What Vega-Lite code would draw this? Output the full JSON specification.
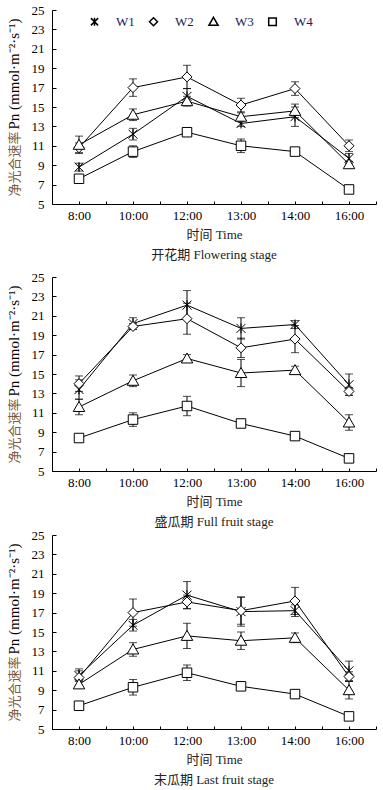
{
  "$schema": "https://vega.github.io/schema/vega-lite/v6.json",
  "padding": {"left": 5, "top": 4, "right": 0, "bottom": 0},
  "config": {
    "font": "Liberation Serif, Noto Sans CJK SC",
    "view": {"stroke": null},
    "axis": {"domainColor": "black", "tickColor": "black", "labelColor": "black", "labelFontSize": 13, "titleFontSize": 13, "titleFontWeight": "normal", "grid": false, "domainWidth": 1, "tickWidth": 1, "labelFont": "Liberation Serif", "titleFont": "Liberation Serif, Noto Sans CJK SC"},
    "title": {"font": "Liberation Serif, Noto Sans CJK SC", "fontSize": 13, "fontWeight": "normal", "color": "#222"}
  },
  "data": {"values": [
    {"stage": "F", "series": "W1", "time": "8:00", "pn": 8.8, "se": 0.4},
    {"stage": "F", "series": "W1", "time": "10:00", "pn": 12.2, "se": 0.6},
    {"stage": "F", "series": "W1", "time": "12:00", "pn": 16.1, "se": 0.8},
    {"stage": "F", "series": "W1", "time": "13:00", "pn": 13.3, "se": 0.3},
    {"stage": "F", "series": "W1", "time": "14:00", "pn": 14.0, "se": 1.0},
    {"stage": "F", "series": "W1", "time": "16:00", "pn": 9.7, "se": 0.5},
    {"stage": "F", "series": "W2", "time": "8:00", "pn": 10.8, "se": 0.5},
    {"stage": "F", "series": "W2", "time": "10:00", "pn": 17.0, "se": 0.9},
    {"stage": "F", "series": "W2", "time": "12:00", "pn": 18.1, "se": 1.2},
    {"stage": "F", "series": "W2", "time": "13:00", "pn": 15.2, "se": 0.7},
    {"stage": "F", "series": "W2", "time": "14:00", "pn": 16.9, "se": 0.7},
    {"stage": "F", "series": "W2", "time": "16:00", "pn": 11.0, "se": 0.6},
    {"stage": "F", "series": "W3", "time": "8:00", "pn": 11.1, "se": 0.9},
    {"stage": "F", "series": "W3", "time": "10:00", "pn": 14.2, "se": 0.6},
    {"stage": "F", "series": "W3", "time": "12:00", "pn": 15.6, "se": 0.5},
    {"stage": "F", "series": "W3", "time": "13:00", "pn": 14.0, "se": 0.4},
    {"stage": "F", "series": "W3", "time": "14:00", "pn": 14.6, "se": 0.7},
    {"stage": "F", "series": "W3", "time": "16:00", "pn": 9.1, "se": 0.3},
    {"stage": "F", "series": "W4", "time": "8:00", "pn": 7.6, "se": 0.3},
    {"stage": "F", "series": "W4", "time": "10:00", "pn": 10.4, "se": 0.6},
    {"stage": "F", "series": "W4", "time": "12:00", "pn": 12.4, "se": 0.3},
    {"stage": "F", "series": "W4", "time": "13:00", "pn": 11.0, "se": 0.7},
    {"stage": "F", "series": "W4", "time": "14:00", "pn": 10.4, "se": 0.2},
    {"stage": "F", "series": "W4", "time": "16:00", "pn": 6.5, "se": 0.2},
    {"stage": "U", "series": "W1", "time": "8:00", "pn": 13.4, "se": 1.0},
    {"stage": "U", "series": "W1", "time": "10:00", "pn": 20.2, "se": 0.6},
    {"stage": "U", "series": "W1", "time": "12:00", "pn": 22.1, "se": 1.5},
    {"stage": "U", "series": "W1", "time": "13:00", "pn": 19.7, "se": 1.1},
    {"stage": "U", "series": "W1", "time": "14:00", "pn": 20.1, "se": 0.4},
    {"stage": "U", "series": "W1", "time": "16:00", "pn": 13.9, "se": 1.1},
    {"stage": "U", "series": "W2", "time": "8:00", "pn": 14.0, "se": 0.8},
    {"stage": "U", "series": "W2", "time": "10:00", "pn": 19.9, "se": 0.3},
    {"stage": "U", "series": "W2", "time": "12:00", "pn": 20.7, "se": 1.6},
    {"stage": "U", "series": "W2", "time": "13:00", "pn": 17.7, "se": 1.0},
    {"stage": "U", "series": "W2", "time": "14:00", "pn": 18.6, "se": 1.4},
    {"stage": "U", "series": "W2", "time": "16:00", "pn": 13.2, "se": 0.4},
    {"stage": "U", "series": "W3", "time": "8:00", "pn": 11.6, "se": 0.8},
    {"stage": "U", "series": "W3", "time": "10:00", "pn": 14.3, "se": 0.6},
    {"stage": "U", "series": "W3", "time": "12:00", "pn": 16.6, "se": 0.4},
    {"stage": "U", "series": "W3", "time": "13:00", "pn": 15.1, "se": 1.4},
    {"stage": "U", "series": "W3", "time": "14:00", "pn": 15.4, "se": 0.4},
    {"stage": "U", "series": "W3", "time": "16:00", "pn": 10.0, "se": 0.8},
    {"stage": "U", "series": "W4", "time": "8:00", "pn": 8.4, "se": 0.3},
    {"stage": "U", "series": "W4", "time": "10:00", "pn": 10.3, "se": 0.7},
    {"stage": "U", "series": "W4", "time": "12:00", "pn": 11.7, "se": 1.0},
    {"stage": "U", "series": "W4", "time": "13:00", "pn": 9.9, "se": 0.2},
    {"stage": "U", "series": "W4", "time": "14:00", "pn": 8.6, "se": 0.3},
    {"stage": "U", "series": "W4", "time": "16:00", "pn": 6.3, "se": 0.3},
    {"stage": "L", "series": "W1", "time": "8:00", "pn": 10.5, "se": 0.5},
    {"stage": "L", "series": "W1", "time": "10:00", "pn": 15.7, "se": 0.6},
    {"stage": "L", "series": "W1", "time": "12:00", "pn": 18.8, "se": 1.4},
    {"stage": "L", "series": "W1", "time": "13:00", "pn": 17.1, "se": 1.5},
    {"stage": "L", "series": "W1", "time": "14:00", "pn": 17.2, "se": 0.6},
    {"stage": "L", "series": "W1", "time": "16:00", "pn": 11.0, "se": 1.0},
    {"stage": "L", "series": "W2", "time": "8:00", "pn": 10.3, "se": 0.9},
    {"stage": "L", "series": "W2", "time": "10:00", "pn": 17.0, "se": 1.4},
    {"stage": "L", "series": "W2", "time": "12:00", "pn": 18.1, "se": 0.7},
    {"stage": "L", "series": "W2", "time": "13:00", "pn": 17.2, "se": 1.4},
    {"stage": "L", "series": "W2", "time": "14:00", "pn": 18.2, "se": 1.4},
    {"stage": "L", "series": "W2", "time": "16:00", "pn": 10.4, "se": 0.5},
    {"stage": "L", "series": "W3", "time": "8:00", "pn": 9.6, "se": 0.3},
    {"stage": "L", "series": "W3", "time": "10:00", "pn": 13.2, "se": 0.7},
    {"stage": "L", "series": "W3", "time": "12:00", "pn": 14.6, "se": 1.3},
    {"stage": "L", "series": "W3", "time": "13:00", "pn": 14.1, "se": 0.9},
    {"stage": "L", "series": "W3", "time": "14:00", "pn": 14.4, "se": 0.5},
    {"stage": "L", "series": "W3", "time": "16:00", "pn": 9.0, "se": 0.9},
    {"stage": "L", "series": "W4", "time": "8:00", "pn": 7.4, "se": 0.2},
    {"stage": "L", "series": "W4", "time": "10:00", "pn": 9.3, "se": 0.8},
    {"stage": "L", "series": "W4", "time": "12:00", "pn": 10.8, "se": 0.8},
    {"stage": "L", "series": "W4", "time": "13:00", "pn": 9.4, "se": 0.3},
    {"stage": "L", "series": "W4", "time": "14:00", "pn": 8.6, "se": 0.3},
    {"stage": "L", "series": "W4", "time": "16:00", "pn": 6.3, "se": 0.3}
  ]},
  "spacing": 9,
  "resolve": {"scale": {"shape": "independent"}, "legend": {"shape": "independent"}},
  "vconcat": [
    {
      "width": 324, "height": 194,
      "transform": [{"filter": "datum.stage === 'F'"}],
      "title": {"text": "开花期 Flowering stage", "orient": "bottom", "frame": "group", "anchor": "middle", "offset": 8},
      "resolve": {"axis": {"x": "independent", "y": "independent"}},
      "layer": [
        {
          "mark": {"type": "line", "color": "black", "strokeWidth": 1},
          "encoding": {
            "x": {"field": "time", "type": "ordinal", "scale": {"type": "band", "domain": ["8:00", "10:00", "12:00", "13:00", "14:00", "16:00"], "paddingInner": 0, "paddingOuter": 0},
                  "axis": {"orient": "bottom", "tickBand": "extent", "tickSize": -3, "labelPadding": 8, "labelAngle": 0, "title": "时间 Time", "titlePadding": 6, "titleColor": "#222"}},
            "y": {"field": "pn", "type": "quantitative", "scale": {"domain": [5, 25], "nice": false, "zero": false},
                  "axis": {"orient": "left", "values": [5, 7, 9, 11, 13, 15, 17, 19, 21, 23, 25], "tickSize": -4, "labelPadding": 12, "title": "净光合速率", "titleColor": "#7d5c3c", "titleFont": "Noto Sans CJK SC", "titleX": -31, "titleY": 186, "titleAlign": "left", "titleBaseline": "bottom", "titleAngle": 270}},
            "detail": {"field": "series"}
          }
        },
        {
          "mark": {"type": "errorbar", "color": "black", "ticks": {"size": 8, "color": "black", "thickness": 1}, "thickness": 1},
          "encoding": {
            "x": {"field": "time", "type": "ordinal", "axis": null},
            "y": {"field": "pn", "type": "quantitative", "axis": null},
            "yError": {"field": "se"}
          }
        },
        {
          "mark": {"type": "point", "filled": false, "fill": "white", "fillOpacity": 1, "stroke": "black", "strokeWidth": 1, "opacity": 1, "size": 100},
          "encoding": {
            "x": {"field": "time", "type": "ordinal", "axis": {"orient": "bottom", "domain": false, "labels": false, "title": null, "tickSize": -3}},
            "y": {"field": "pn", "type": "quantitative", "axis": {"orient": "left", "domain": false, "ticks": false, "labels": false, "title": "Pn (mmol·m⁻²·s⁻¹)", "titleFontSize": 15, "titleColor": "black", "titleX": -31, "titleY": 119, "titleAlign": "left", "titleBaseline": "bottom", "titleAngle": 270}},
            "shape": {"field": "series", "type": "nominal",
              "scale": {"domain": ["W1", "W2", "W3", "W4"], "range": ["M-0.9,-0.9L0.9,0.9M-0.9,0.9L0.9,-0.9M0,-1L0,1", "M0,-1L1,0L0,1L-1,0Z", "M0,-1.1L1.15,0.9L-1.15,0.9Z", "M-0.95,-0.95L0.95,-0.95L0.95,0.95L-0.95,0.95Z"]},
              "legend": {"orient": "none", "legendX": 36, "legendY": 5, "direction": "horizontal", "title": null, "padding": 0, "symbolSize": 64, "labelFont": "Liberation Serif", "labelFontSize": 13, "labelColor": "#1c1c5c", "columnPadding": 11, "labelOffset": 15}}
          }
        }
      ]
    },
    {
      "spacing": 0,
      "resolve": {"scale": {"shape": "independent"}, "legend": {"shape": "independent"}},
      "vconcat": [
        {
          "width": 324, "height": 194,
          "transform": [{"filter": "datum.stage === 'U'"}],
          "title": {"text": "盛瓜期 Full fruit stage", "orient": "bottom", "frame": "group", "anchor": "middle", "offset": 8},
          "resolve": {"axis": {"x": "independent", "y": "independent"}},
          "layer": [
            {
              "mark": {"type": "line", "color": "black", "strokeWidth": 1},
              "encoding": {
                "x": {"field": "time", "type": "ordinal", "scale": {"type": "band", "domain": ["8:00", "10:00", "12:00", "13:00", "14:00", "16:00"], "paddingInner": 0, "paddingOuter": 0},
                      "axis": {"orient": "bottom", "tickBand": "extent", "tickSize": -3, "labelPadding": 8, "labelAngle": 0, "title": "时间 Time", "titlePadding": 6, "titleColor": "#222"}},
                "y": {"field": "pn", "type": "quantitative", "scale": {"domain": [5, 25], "nice": false, "zero": false},
                      "axis": {"orient": "left", "values": [5, 7, 9, 11, 13, 15, 17, 19, 21, 23, 25], "tickSize": -4, "labelPadding": 12, "title": "净光合速率", "titleColor": "#7d5c3c", "titleFont": "Noto Sans CJK SC", "titleX": -31, "titleY": 186, "titleAlign": "left", "titleBaseline": "bottom", "titleAngle": 270}},
                "detail": {"field": "series"}
              }
            },
            {
              "mark": {"type": "errorbar", "color": "black", "ticks": {"size": 8, "color": "black", "thickness": 1}, "thickness": 1},
              "encoding": {
                "x": {"field": "time", "type": "ordinal", "axis": null},
                "y": {"field": "pn", "type": "quantitative", "axis": null},
                "yError": {"field": "se"}
              }
            },
            {
              "mark": {"type": "point", "filled": false, "fill": "white", "fillOpacity": 1, "stroke": "black", "strokeWidth": 1, "opacity": 1, "size": 100},
              "encoding": {
                "x": {"field": "time", "type": "ordinal", "axis": {"orient": "bottom", "domain": false, "labels": false, "title": null, "tickSize": -3}},
                "y": {"field": "pn", "type": "quantitative", "axis": {"orient": "left", "domain": false, "ticks": false, "labels": false, "title": "Pn (mmol·m⁻²·s⁻¹)", "titleFontSize": 15, "titleColor": "black", "titleX": -31, "titleY": 119, "titleAlign": "left", "titleBaseline": "bottom", "titleAngle": 270}},
                "shape": {"field": "series", "type": "nominal",
                  "scale": {"domain": ["W1", "W2", "W3", "W4"], "range": ["M-0.9,-0.9L0.9,0.9M-0.9,0.9L0.9,-0.9M0,-1L0,1", "M0,-1L1,0L0,1L-1,0Z", "M0,-1.1L1.15,0.9L-1.15,0.9Z", "M-0.95,-0.95L0.95,-0.95L0.95,0.95L-0.95,0.95Z"]},
                  "legend": null}
              }
            }
          ]
        },
        {
          "width": 324, "height": 194,
          "transform": [{"filter": "datum.stage === 'L'"}],
          "title": {"text": "末瓜期 Last fruit stage", "orient": "bottom", "frame": "group", "anchor": "middle", "offset": 8},
          "resolve": {"axis": {"x": "independent", "y": "independent"}},
          "layer": [
            {
              "mark": {"type": "line", "color": "black", "strokeWidth": 1},
              "encoding": {
                "x": {"field": "time", "type": "ordinal", "scale": {"type": "band", "domain": ["8:00", "10:00", "12:00", "13:00", "14:00", "16:00"], "paddingInner": 0, "paddingOuter": 0},
                      "axis": {"orient": "bottom", "tickBand": "extent", "tickSize": -3, "labelPadding": 8, "labelAngle": 0, "title": "时间 Time", "titlePadding": 6, "titleColor": "#222"}},
                "y": {"field": "pn", "type": "quantitative", "scale": {"domain": [5, 25], "nice": false, "zero": false},
                      "axis": {"orient": "left", "values": [5, 7, 9, 11, 13, 15, 17, 19, 21, 23, 25], "tickSize": -4, "labelPadding": 12, "title": "净光合速率", "titleColor": "#7d5c3c", "titleFont": "Noto Sans CJK SC", "titleX": -31, "titleY": 186, "titleAlign": "left", "titleBaseline": "bottom", "titleAngle": 270}},
                "detail": {"field": "series"}
              }
            },
            {
              "mark": {"type": "errorbar", "color": "black", "ticks": {"size": 8, "color": "black", "thickness": 1}, "thickness": 1},
              "encoding": {
                "x": {"field": "time", "type": "ordinal", "axis": null},
                "y": {"field": "pn", "type": "quantitative", "axis": null},
                "yError": {"field": "se"}
              }
            },
            {
              "mark": {"type": "point", "filled": false, "fill": "white", "fillOpacity": 1, "stroke": "black", "strokeWidth": 1, "opacity": 1, "size": 100},
              "encoding": {
                "x": {"field": "time", "type": "ordinal", "axis": {"orient": "bottom", "domain": false, "labels": false, "title": null, "tickSize": -3}},
                "y": {"field": "pn", "type": "quantitative", "axis": {"orient": "left", "domain": false, "ticks": false, "labels": false, "title": "Pn (mmol·m⁻²·s⁻¹)", "titleFontSize": 15, "titleColor": "black", "titleX": -31, "titleY": 119, "titleAlign": "left", "titleBaseline": "bottom", "titleAngle": 270}},
                "shape": {"field": "series", "type": "nominal",
                  "scale": {"domain": ["W1", "W2", "W3", "W4"], "range": ["M-0.9,-0.9L0.9,0.9M-0.9,0.9L0.9,-0.9M0,-1L0,1", "M0,-1L1,0L0,1L-1,0Z", "M0,-1.1L1.15,0.9L-1.15,0.9Z", "M-0.95,-0.95L0.95,-0.95L0.95,0.95L-0.95,0.95Z"]},
                  "legend": null}
              }
            }
          ]
        }
      ]
    }
  ]
}
